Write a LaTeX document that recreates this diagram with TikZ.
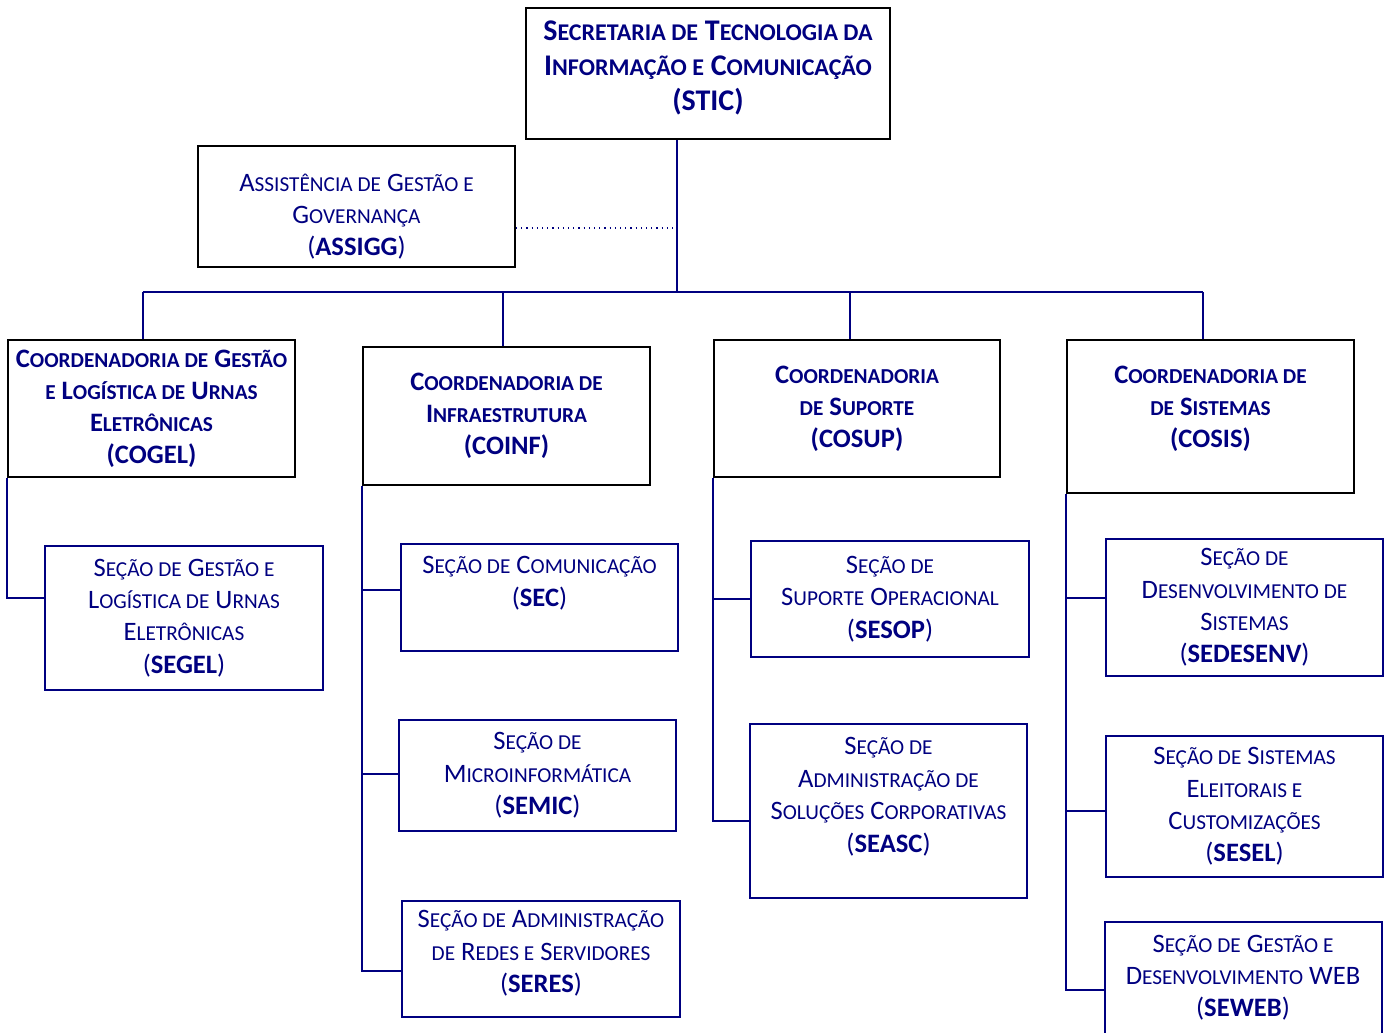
\documentclass[tikz,border=0pt]{standalone}
\usepackage{fontspec}
\setmainfont{Carlito}
\usepackage{tikz}
\usetikzlibrary{calc}
\definecolor{navy}{RGB}{0,0,128}
\newcommand\lc[1]{{\addfontfeatures{Scale=0.8}\MakeUppercase{#1}}}
\tikzset{
  topbox/.style={draw=black, line width=1pt, align=center, text=navy, font=\fontsize{13.3}{16}\selectfont\bfseries},
  secbox/.style={draw=navy, line width=1pt, align=center, text=navy, font=\fontsize{13.3}{16.2}\selectfont},
  link/.style={draw=navy, line width=1pt}
}

\begin{document}
\begin{tikzpicture}[x=0.5pt, y=-0.5pt]
		%%%%% START %%%%%
		\useasboundingbox (0,0) rectangle (1390,1032);
		
		\node[topbox, minimum width=182pt, minimum height=65.5pt, font=\fontsize{15}{17.5}\selectfont\bfseries] (stic) at (708, 73.5) {S\lc{ecretaria de} T\lc{ecnologia da}\\I\lc{nformação e} C\lc{omunicação}\\(STIC)\\[-9.5pt]\mbox{}};
		\node[topbox, minimum width=158.5pt, minimum height=60.5pt, font=\fontsize{13.3}{16}\selectfont] (assigg) at (356.5, 206.5) {\mbox{}\\[3pt]A\lc{ssistência de} G\lc{estão e}\\G\lc{overnança}\\(\textbf{ASSIGG})};
		
		\node[topbox, minimum width=143.5pt, minimum height=68.5pt] (cogel) at (151.5, 408.5) {C\lc{oordenadoria de} G\lc{estão}\\\lc{e} L\lc{ogística de} U\lc{rnas}\\E\lc{letrônicas}\\(COGEL)};
		\node[topbox, minimum width=143.5pt, minimum height=69pt] (coinf) at (506.5, 416) {C\lc{oordenadoria de}\\I\lc{nfraestrutura}\\(COINF)};
		\node[topbox, minimum width=143pt, minimum height=68.5pt] (cosup) at (857, 408.5) {C\lc{oordenadoria}\\\lc{de} S\lc{uporte}\\(COSUP)};
		\node[topbox, minimum width=143.5pt, minimum height=76.5pt] (cosis) at (1210.5, 416.5) {C\lc{oordenadoria de}\\\lc{de} S\lc{istemas}\\(COSIS)\\[-6pt]\mbox{}};
		
		\node[secbox, minimum width=139pt, minimum height=72pt] (segel) at (184, 618) {S\lc{eção de} G\lc{estão e}\\L\lc{ogística de} U\lc{rnas}\\E\lc{letrônicas}\\(\textbf{SEGEL})};
		
		\node[secbox, minimum width=138.5pt, minimum height=53.5pt] (sec) at (539.5, 597.5) {S\lc{eção de} C\lc{omunicação}\\(\textbf{SEC})\\\mbox{}};
		\node[secbox, minimum width=138.5pt, minimum height=55.5pt] (semic) at (537.5, 775.5) {S\lc{eção de}\\M\lc{icroinformática}\\(\textbf{SEMIC})};
		\node[secbox, minimum width=139pt, minimum height=58pt] (seres) at (541, 959) {S\lc{eção de} A\lc{dministração}\\\lc{de} R\lc{edes e} S\lc{ervidores}\\(\textbf{SERES})\\[-8.9pt]\mbox{}};
		
		\node[secbox, minimum width=139pt, minimum height=58pt] (sesop) at (890, 599) {S\lc{eção de}\\S\lc{uporte} O\lc{peracional}\\(\textbf{SESOP})};
		\node[secbox, minimum width=138.5pt, minimum height=87pt] (seasc) at (888.5, 811) {S\lc{eção de}\\A\lc{dministração de}\\S\lc{oluções} C\lc{orporativas}\\(\textbf{SEASC})\\\mbox{}};
		
		\node[secbox, minimum width=138.5pt, minimum height=68.5pt] (sedesenv) at (1244.5, 607.5) {S\lc{eção de}\\D\lc{esenvolvimento de}\\S\lc{istemas}\\(\textbf{SEDESENV})};
		\node[secbox, minimum width=138.5pt, minimum height=70.5pt] (sesel) at (1244.5, 806.5) {S\lc{eção de} S\lc{istemas}\\E\lc{leitorais e}\\C\lc{ustomizações}\\(\textbf{SESEL})};
		\node[secbox, minimum width=138.5pt, minimum height=60pt] (seweb) at (1243, 982) {S\lc{eção de} G\lc{estão e}\\D\lc{esenvolvimento} WEB\\(\textbf{SEWEB})\\[-10pt]\mbox{}};
		
		% tronco e barramento
		\coordinate (hub) at (677, 292);
		\draw[link] (stic.south -| hub) -- (hub);
		\draw[navy, line width=0.6pt, dotted] ([yshift=-10.75pt]assigg.east) -- ([yshift=-10.75pt]assigg.east -| hub);
		\draw[link] ([xshift=-4.5pt]cogel.north |- hub) -- ([xshift=-4pt]cosis.north |- hub);
		\foreach \c/\dx in {cogel/-4.5, coinf/-2, cosup/-3.5, cosis/-4}
			\draw[link] ([xshift=\dx pt]\c.north |- hub) -- ([xshift=\dx pt]\c.north);
		
		% secoes
		\draw[link] (cogel.south west) |- ([yshift=10pt]segel.west);
		\foreach \s/\dy in {sec/3.75, semic/1, seres/-6}
			\draw[link] (coinf.south west) |- ([yshift=\dy pt]\s.west);
		\foreach \s/\dy in {sesop/0, seasc/-5}
			\draw[link] (cosup.south west) |- ([yshift=\dy pt]\s.west);
		\foreach \s/\dy in {sedesenv/4.75, sesel/-2, seweb/-4}
			\draw[link] (cosis.south west) |- ([yshift=\dy pt]\s.west);
		
		%%%%% END %%%%%
	\end{tikzpicture}
\end{document}
